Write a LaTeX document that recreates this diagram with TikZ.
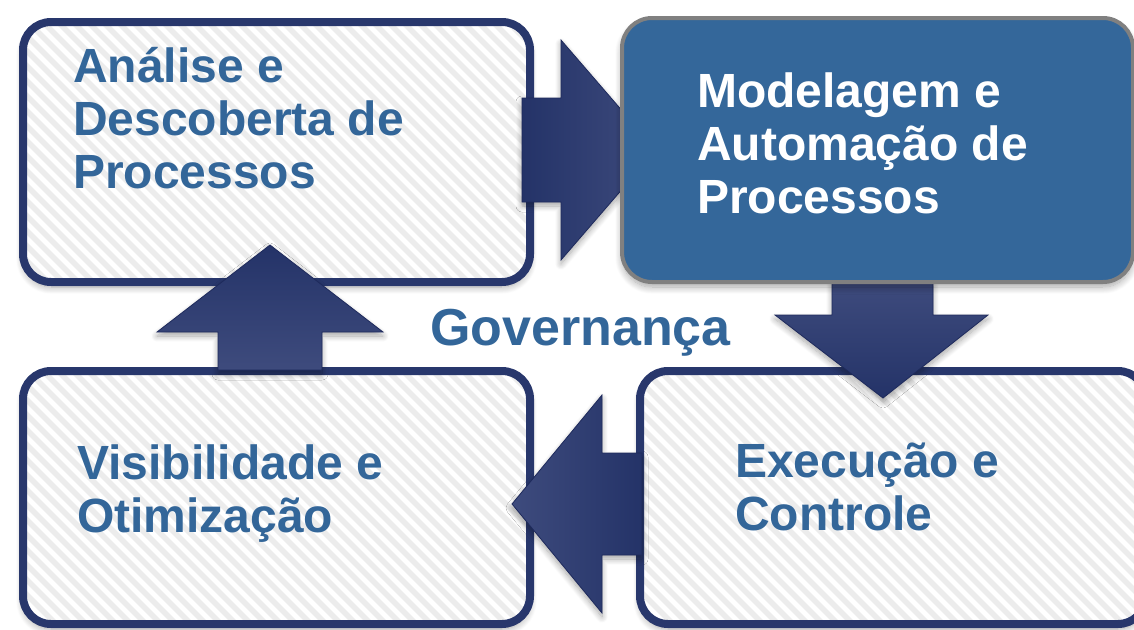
\documentclass[tikz,border=0pt]{standalone}
\usepackage{fontspec}
\setmainfont{Liberation Sans}
\usetikzlibrary{shadows.blur}
\definecolor{navy}{RGB}{40,55,108}
\definecolor{navyline}{RGB}{30,42,92}
\definecolor{txtblue}{RGB}{51,102,153}
\definecolor{boxblue}{RGB}{52,103,154}
\definecolor{grayline}{RGB}{128,128,128}
\definecolor{stripe}{RGB}{236,236,236}
\definecolor{arrdark}{RGB}{36,51,104}
\definecolor{arrlight}{RGB}{62,75,125}
\tikzset{
  hatchbox/.style={draw=navy, line width=8pt, rounded corners=28pt, fill=white,
    anchor=north west, inner sep=0pt,
    blur shadow={shadow xshift=0pt, shadow yshift=-5pt, shadow blur radius=7pt, shadow opacity=35, shadow blur steps=10},
    path picture={
      \foreach \t in {-700,-685,...,1300}{
        \draw[stripe, line width=5.5pt]
          ([xshift=\t pt]path picture bounding box.north west) -- ++(700pt,-700pt);
      }
    }},
  bluebox/.style={draw=grayline, line width=4pt, rounded corners=30pt, fill=boxblue,
    anchor=north west, inner sep=0pt,
    blur shadow={shadow xshift=0pt, shadow yshift=-5pt, shadow blur radius=7pt, shadow opacity=35, shadow blur steps=10}},
  bigarrow/.style={draw=navyline, line width=0.8pt, line join=miter,
    blur shadow={shadow xshift=0pt, shadow yshift=-4pt, shadow blur radius=6pt, shadow opacity=35, shadow blur steps=10}},
  boxtext/.style={anchor=base west, align=left, inner sep=0pt,
    font=\fontsize{48}{53}\selectfont\bfseries},
}
\begin{document}
\begin{tikzpicture}[x=1pt,y=-1pt]
\useasboundingbox (0,0) rectangle (1134,629);
\clip (0,0) rectangle (1134,629);
% boxes
\node[hatchbox, minimum width=507pt, minimum height=260pt] (tl) at (19,18) {};
\node[hatchbox, minimum width=507pt, minimum height=253pt] (bl) at (19,367) {};
\node[hatchbox, minimum width=506pt, minimum height=253pt] (br) at (636,367) {};
% arrows
\coordinate (ra) at (522,150);
\path[bigarrow, left color=arrdark, right color=arrlight]
  (ra) ++(0,-52) -- ++(39,0) -- ++(0,-58) -- ++(95,110) -- ++(-95,110) -- ++(0,-58) -- ++(-39,0) -- cycle;
\coordinate (da) at (883,282);
\path[bigarrow, top color=arrlight, bottom color=arrdark]
  (da) ++(-51,0) -- ++(101,0) -- ++(0,33) -- ++(55,0) -- (883,398) -- (775,315) -- ++(57,0) -- cycle;
\coordinate (la) at (642,504);
\path[bigarrow, left color=arrlight, right color=arrdark]
  (la) ++(0,-51) -- ++(0,102) -- ++(-40,0) -- ++(0,58) -- (512,504) -- (602,395) -- ++(0,58) -- cycle;
\coordinate (ua) at (270,370);
\path[bigarrow, top color=arrdark, bottom color=arrlight]
  (ua) ++(-52,0) -- ++(104,0) -- ++(0,-38) -- ++(61,0) -- (270,245) -- (157,332) -- ++(61,0) -- cycle;
% blue box
\node[bluebox, minimum width=511pt, minimum height=264pt] (tr) at (620,16) {};
% texts (base anchor = baseline of the last line)
\node[boxtext, text=txtblue] (tlt) at (73,188) {Análise e\\Descoberta de\\Processos};
\node[boxtext, text=white] (trt) at (697,213) {Modelagem e\\Automação de\\Processos};
\node[boxtext, text=txtblue] (blt) at (77,532) {Visibilidade e\\Otimização};
\node[boxtext, text=txtblue] (brt) at (735,530) {Execução e\\Controle};
\node[anchor=base west, inner sep=0pt, text=txtblue, font=\fontsize{52}{60}\selectfont\bfseries] (gov) at (430,345) {Governança};
\end{tikzpicture}
\end{document}
